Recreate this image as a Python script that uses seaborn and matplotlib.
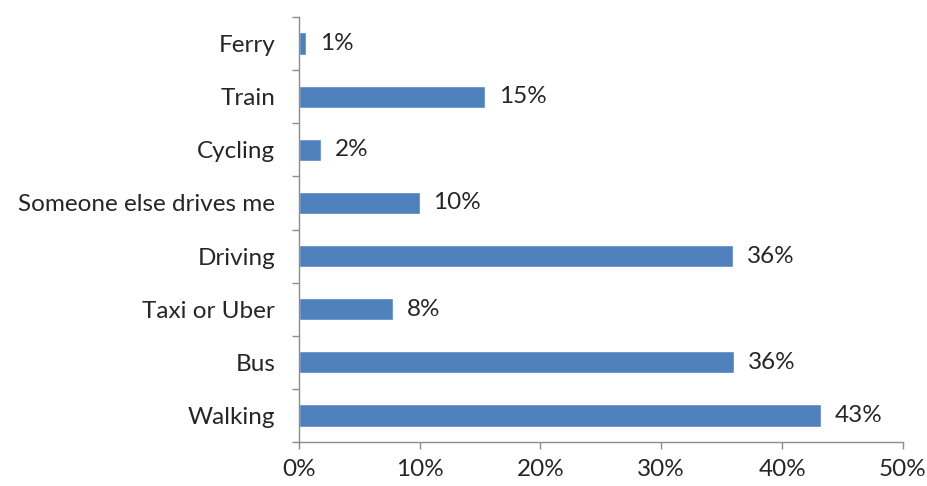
import matplotlib
matplotlib.use("Agg")
import matplotlib.pyplot as plt
from matplotlib.ticker import FixedLocator, PercentFormatter
import seaborn as sns
import pandas as pd

modes = ["Ferry", "Train", "Cycling", "Someone else drives me",
         "Driving", "Taxi or Uber", "Bus", "Walking"]
shares = [0.6, 15.4, 1.8, 10.0, 35.9, 7.8, 36.0, 43.2]
x_ticks = [0, 10, 20, 30, 40, 50]

df = pd.DataFrame({"mode": modes, "share": shares})

sns.set_theme(style="white")
plt.rcParams["font.family"] = ["Lato", "DejaVu Sans"]

BAR = "#4F81BD"
AXIS = "#8C8C8C"
TEXT = "#262626"
FS = 17.5

fig = plt.figure(figsize=(9.28, 4.86), dpi=100)
ax = fig.add_axes([0.322, 0.0905, 0.651, 0.8745])

sns.barplot(data=df, x="share", y="mode", orient="h", color=BAR,
            saturation=1, width=0.42, ax=ax)

ax.set_xlim(0, 50)
ax.set_ylim(len(modes) - 0.5, -0.5)
ax.xaxis.set_major_locator(FixedLocator(x_ticks))
ax.xaxis.set_major_formatter(PercentFormatter(decimals=0))
ax.set_xlabel("")
ax.set_ylabel("")

for s in ["top", "right"]:
    ax.spines[s].set_visible(False)
for s in ["left", "bottom"]:
    ax.spines[s].set_color(AXIS)
    ax.spines[s].set_linewidth(1.0)

# category ticks sit between bars, as minor ticks
ax.yaxis.set_minor_locator(FixedLocator([i - 0.5 for i in range(len(modes) + 1)]))
ax.tick_params(axis="y", which="major", length=0, pad=17, labelsize=FS, labelcolor=TEXT)
ax.tick_params(axis="y", which="minor", length=5, color=AXIS, width=1, left=True)
ax.tick_params(axis="x", which="major", length=5, color=AXIS, width=1, bottom=True,
               pad=7, labelsize=FS, labelcolor=TEXT)

for i, v in enumerate(shares):
    ax.annotate(f"{v:.0f}%", xy=(v, i), xytext=(10, 0), textcoords="offset points",
                va="center", ha="left", fontsize=FS, color=TEXT)

fig.savefig("out.png", dpi=100, facecolor="white")
